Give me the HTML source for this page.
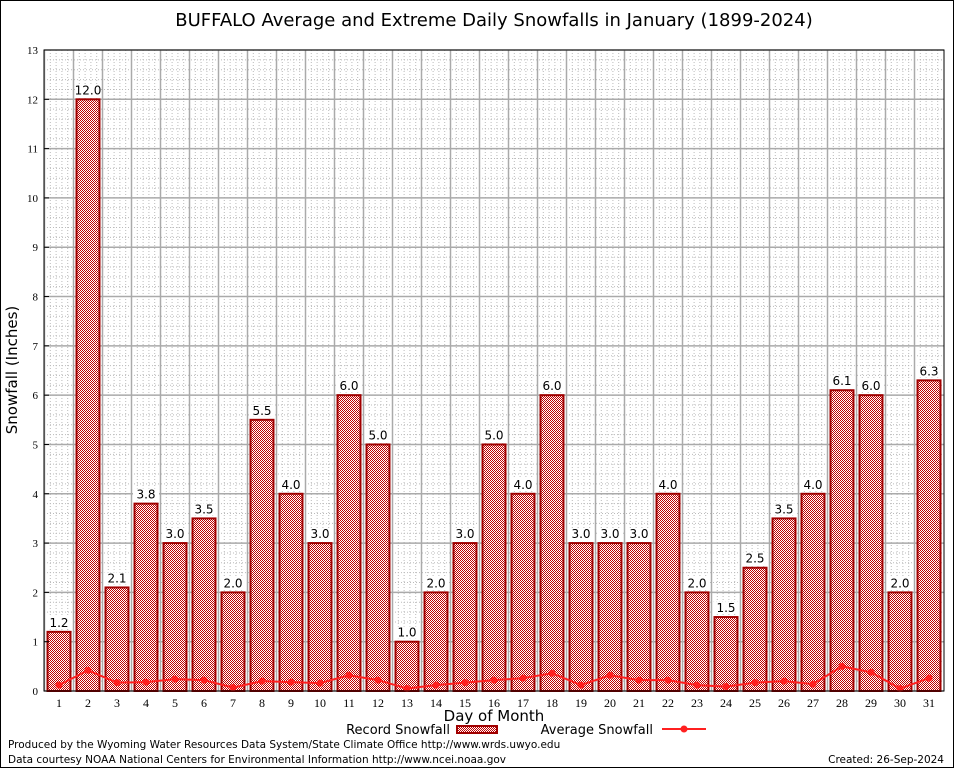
<!DOCTYPE html>
<html><head><meta charset="utf-8"><style>
html,body{margin:0;padding:0;background:#fff;}
svg{display:block;font-family:"DejaVu Sans","Liberation Sans",sans-serif;}
</style></head><body>
<svg id="chart" width="954" height="768">
<defs>
<pattern id="chk" width="2" height="2" patternUnits="userSpaceOnUse">
<rect width="2" height="2" fill="#fff"/><rect width="1" height="1" fill="#c00000"/><rect x="1" y="1" width="1" height="1" fill="#c00000"/>
</pattern>
</defs>
<rect x="0.5" y="0.5" width="953" height="767" fill="#fff" stroke="#000"/>
<text x="494" y="26" font-size="18" text-anchor="middle">BUFFALO Average and Extreme Daily Snowfalls in January (1899-2024)</text>
<g id="grid"></g>
<g id="bars"></g>
<g id="avg"></g>
<g id="axes"></g>
<text x="17" y="370" font-size="15" text-anchor="middle" transform="rotate(-90 17 370)">Snowfall (Inches)</text>
<text x="494" y="721" font-size="15" text-anchor="middle">Day of Month</text>
<g>
<text x="450" y="734" font-size="13" text-anchor="end">Record Snowfall</text>
<rect x="457" y="726" width="40" height="7" fill="url(#chk)" stroke="#a00000" stroke-width="2"/>
<text x="653" y="734" font-size="13" text-anchor="end">Average Snowfall</text>
<line x1="662" y1="729" x2="706" y2="729" stroke="#ff2020" stroke-width="2"/>
<circle cx="684" cy="729" r="3.5" fill="#ff2020"/>
</g>
<text x="8" y="748" font-size="10.5">Produced by the Wyoming Water Resources Data System/State Climate Office http://www.wrds.uwyo.edu</text>
<text x="8" y="763" font-size="10.5">Data courtesy NOAA National Centers for Environmental Information http://www.ncei.noaa.gov</text>
<text x="944" y="763" font-size="10.5" text-anchor="end">Created: 26-Sep-2024</text>
</svg>
<script>
const days=[1,2,3,4,5,6,7,8,9,10,11,12,13,14,15,16,17,18,19,20,21,22,23,24,25,26,27,28,29,30,31];
const recordSnow=[1.2,12.0,2.1,3.8,3.0,3.5,2.0,5.5,4.0,3.0,6.0,5.0,1.0,2.0,3.0,5.0,4.0,6.0,3.0,3.0,3.0,4.0,2.0,1.5,2.5,3.5,4.0,6.1,6.0,2.0,6.3];
const avgSnow=[0.12,0.42,0.17,0.18,0.24,0.22,0.07,0.2,0.18,0.16,0.32,0.22,0.05,0.12,0.17,0.22,0.26,0.36,0.12,0.32,0.22,0.22,0.12,0.09,0.17,0.2,0.14,0.5,0.38,0.05,0.26];
const yTicks=[0,1,2,3,4,5,6,7,8,9,10,11,12,13];
const NS="http://www.w3.org/2000/svg";
const L=44,R=944,T=50,B=691,yMax=13;
const x=d=>59+(d-1)*29;
const y=v=>B-(v/yMax)*(B-T);
function mk(tag,attrs,parent){const e=document.createElementNS(NS,tag);for(const k in attrs)e.setAttribute(k,attrs[k]);parent.appendChild(e);return e;}
const grid=document.getElementById('grid'),bars=document.getElementById('bars'),avg=document.getElementById('avg'),axes=document.getElementById('axes');
for(let v=0;v<yMax;v+=0.2){const ln=mk('line',{x1:L,x2:R,y1:y(v),y2:y(v),stroke:'#bbb','stroke-width':1,'stroke-dasharray':'1,2'},grid);}
for(let d=1;d<=31;d++){for(let f=0.2;f<0.99;f+=0.2){const ln=mk('line',{x1:x(d)-14.5+29*f,x2:x(d)-14.5+29*f,y1:T,y2:B,stroke:'#bbb','stroke-width':1,'stroke-dasharray':'1,2'},grid);}}
yTicks.forEach(v=>{const ln=mk('line',{x1:L,x2:R,y1:y(v),y2:y(v),stroke:'#aaa','stroke-width':1.5},grid);
const t=mk('text',{x:L-6,y:y(v)+4,'font-size':11,'text-anchor':'end','font-family':'Liberation Serif,serif'},axes);t.textContent=v;
mk('line',{x1:L,x2:L+5,y1:y(v),y2:y(v),stroke:'#000'},axes);});
days.forEach(d=>{const ln=mk('line',{x1:x(d)-14.5,x2:x(d)-14.5,y1:T,y2:B,stroke:'#aaa','stroke-width':1.5},grid);
const t=mk('text',{x:x(d),y:B+16,'font-size':12,'text-anchor':'middle','font-family':'Liberation Serif,serif'},axes);t.textContent=d;});
days.forEach((d,i)=>{const v=recordSnow[i];
const r=mk('rect',{x:x(d)-11.5,y:y(v),width:23,height:B-y(v),fill:'url(#chk)',stroke:'#a00000','stroke-width':2},bars);
const bg=mk('rect',{x:x(d)-13,y:y(v)-15,width:26,height:12,fill:'#fff'},bars);
const t=mk('text',{x:x(d),y:y(v)-5,'font-size':12,'text-anchor':'middle'},bars);t.textContent=v.toFixed(1);});
const pl=mk('polyline',{points:days.map((d,i)=>x(d)+','+y(avgSnow[i])).join(' '),fill:'none',stroke:'#ff2020','stroke-width':2},avg);

days.forEach((d,i)=>{const c=mk('circle',{cx:x(d),cy:y(avgSnow[i]),r:3.5,fill:'#ff2020'},avg);});
const fr=mk('rect',{x:L,y:T,width:R-L,height:B-T,fill:'none',stroke:'#000','stroke-width':1},axes);
</script>
</body></html>
